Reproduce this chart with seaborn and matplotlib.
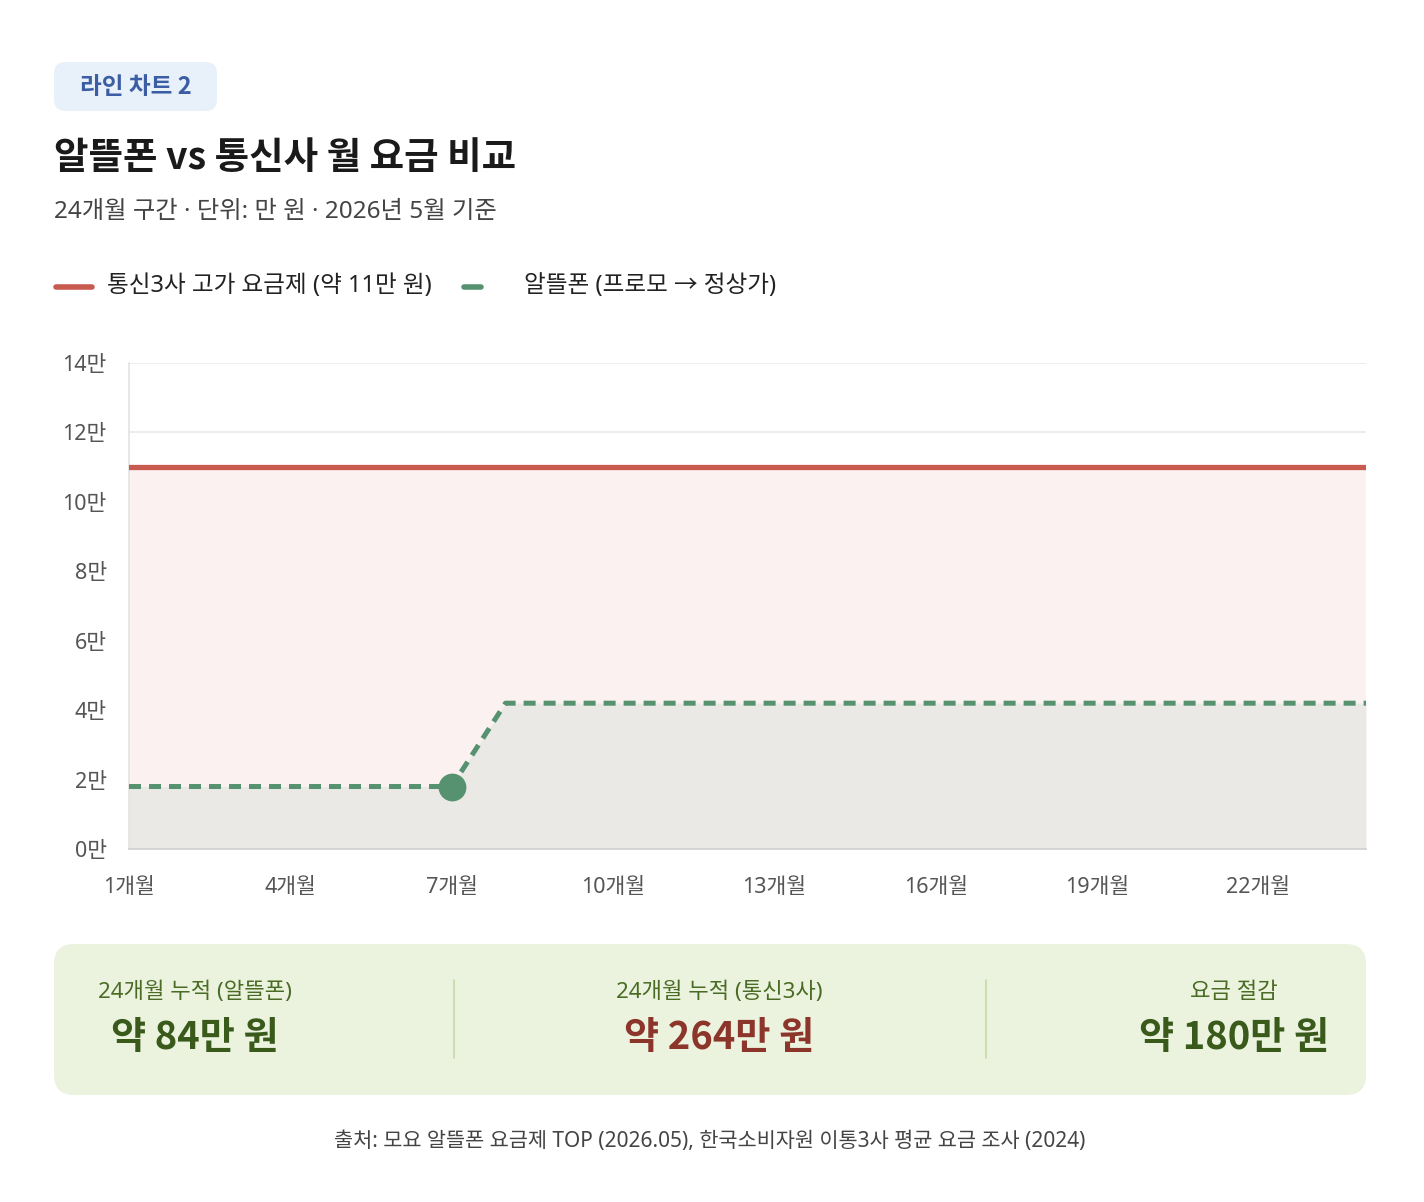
import numpy as np
import pandas as pd
import matplotlib.pyplot as plt
import seaborn as sns
from matplotlib.patches import FancyBboxPatch
from matplotlib.lines import Line2D

# data
months = list(range(1, 25))
carrier_fee = [11.0] * 24
mvno_fee = [1.8] * 7 + [4.2] * 17
promo_end_month = 7
xtick_months = [1, 4, 7, 10, 13, 16, 19, 22]
ytick_vals = [0, 2, 4, 6, 8, 10, 12, 14]
summary_labels = ["24개월 누적 (알뜰폰)", "24개월 누적 (통신3사)", "요금 절감"]
summary_values = ["약 84만 원", "약 264만 원", "약 180만 원"]

RED = "#C95A4F"
GREEN = "#579270"
CJK = ["Noto Sans CJK KR", "DejaVu Sans"]

sns.set_theme(style="white")
plt.rcParams["font.family"] = ["Noto Sans", "Noto Sans CJK KR", "DejaVu Sans"]

df = pd.DataFrame({"month": months, "carrier": carrier_fee, "mvno": mvno_fee})

W, H = 1424, 1202
fig = plt.figure(figsize=(W / 100, H / 100), dpi=100)
fig.patch.set_facecolor("white")


def fx(px):
    return px / W


def fy(py):
    return 1 - py / H


ax = fig.add_axes([fx(129), fy(849), fx(1366 - 129), (849 - 363) / H])

ax.fill_between(df["month"], 0, df["carrier"], color="#FBF1F0", zorder=1, linewidth=0)
ax.fill_between(df["month"], 0, df["mvno"], color="#EAE9E5", zorder=1.5, linewidth=0)

sns.lineplot(data=df, x="month", y="carrier", ax=ax, color=RED, linewidth=3.8, zorder=3)
sns.lineplot(data=df, x="month", y="mvno", ax=ax, color=GREEN, linewidth=3.6,
             zorder=3, dashes=False)
ax.lines[-1].set_dashes((2.4, 1.6))
ax.lines[-1].set_dash_capstyle("butt")

mk = df[df["month"] == promo_end_month]
ax.scatter(mk["month"], mk["mvno"], s=400, color=GREEN, zorder=4, linewidths=0)

ax.set_xlim(1, 24)
ax.set_ylim(0, 14)
ax.set_xticks(xtick_months)
ax.set_xticklabels([f"{m}개월" for m in xtick_months])
ax.set_yticks(ytick_vals)
ax.set_yticklabels([f"{v}만" for v in ytick_vals])
ax.set_xlabel("")
ax.set_ylabel("")
ax.grid(axis="y", color="#EAEAEA", linewidth=1.2, zorder=0)
ax.set_axisbelow(True)
ax.tick_params(axis="y", length=10, width=1.2, color="#EAEAEA", pad=6,
               labelsize=15.5, labelcolor="#555555")
ax.tick_params(axis="x", length=0, pad=20, labelsize=15.5, labelcolor="#555555")
for s in ["top", "right"]:
    ax.spines[s].set_visible(False)
ax.spines["left"].set_color("#E3E3E3")
ax.spines["left"].set_linewidth(1.2)
ax.spines["bottom"].set_color("#CFCFCF")
ax.spines["bottom"].set_linewidth(1.2)
ax.set_facecolor("white")

# badge
badge = FancyBboxPatch((fx(54), fy(111)), fx(217 - 54), (111 - 62) / H,
                       boxstyle="round,pad=0,rounding_size=0.008",
                       transform=fig.transFigure, facecolor="#E8F0FA",
                       edgecolor="none", mutation_aspect=W / H)
fig.patches.append(badge)
fig.text(fx(136), fy(87), "라인 차트 2", ha="center", va="center", family=CJK,
         fontsize=17, color="#3A5DA3", fontweight="bold")

# titles
fig.text(fx(54), fy(157), "알뜰폰 vs 통신사 월 요금 비교", ha="left", va="center",
         family=CJK, fontsize=27, fontweight="bold", color="#1A1A1A")
fig.text(fx(54), fy(212), "24개월 구간 · 단위: 만 원 · 2026년 5월 기준", ha="left",
         va="center", fontsize=17.5, color="#444444")

# legend
fig.lines.append(Line2D([fx(56), fx(92)], [fy(287), fy(287)], transform=fig.transFigure,
                        color=RED, linewidth=4, solid_capstyle="round"))
fig.text(fx(107), fy(286), "통신3사 고가 요금제 (약 11만 원)", ha="left", va="center",
         fontsize=17, color="#222222")
fig.lines.append(Line2D([fx(464), fx(481)], [fy(287), fy(287)], transform=fig.transFigure,
                        color=GREEN, linewidth=4, solid_capstyle="round"))
fig.text(fx(524), fy(286), "알뜰폰 (프로모 → 정상가)", ha="left", va="center",
         fontsize=17, color="#222222")

# summary box
box = FancyBboxPatch((fx(54), fy(1095)), fx(1366 - 54), (1095 - 944) / H,
                     boxstyle="round,pad=0,rounding_size=0.014",
                     transform=fig.transFigure, facecolor="#EBF3DF",
                     edgecolor="none", mutation_aspect=W / H)
fig.patches.append(box)
for xd in [454, 986]:
    fig.lines.append(Line2D([fx(xd), fx(xd)], [fy(980), fy(1058)],
                            transform=fig.transFigure, color="#C5D9A8", linewidth=1.2))
col_x = [195, 719, 1234]
val_colors = ["#3A5A1C", "#8C352B", "#3A5A1C"]
for cx, lab, val, vc in zip(col_x, summary_labels, summary_values, val_colors):
    fig.text(fx(cx), fy(992), lab, ha="center", va="center", fontsize=16,
             color="#4A6B24")
    fig.text(fx(cx), fy(1037), val, ha="center", va="center", fontsize=27.5,
             family=CJK, fontweight="bold", color=vc)

fig.text(fx(710), fy(1141), "출처: 모요 알뜰폰 요금제 TOP (2026.05), 한국소비자원 이통3사 평균 요금 조사 (2024)",
         ha="center", va="center", fontsize=15, color="#444444")

fig.savefig("out.png", dpi=100, facecolor="white")
